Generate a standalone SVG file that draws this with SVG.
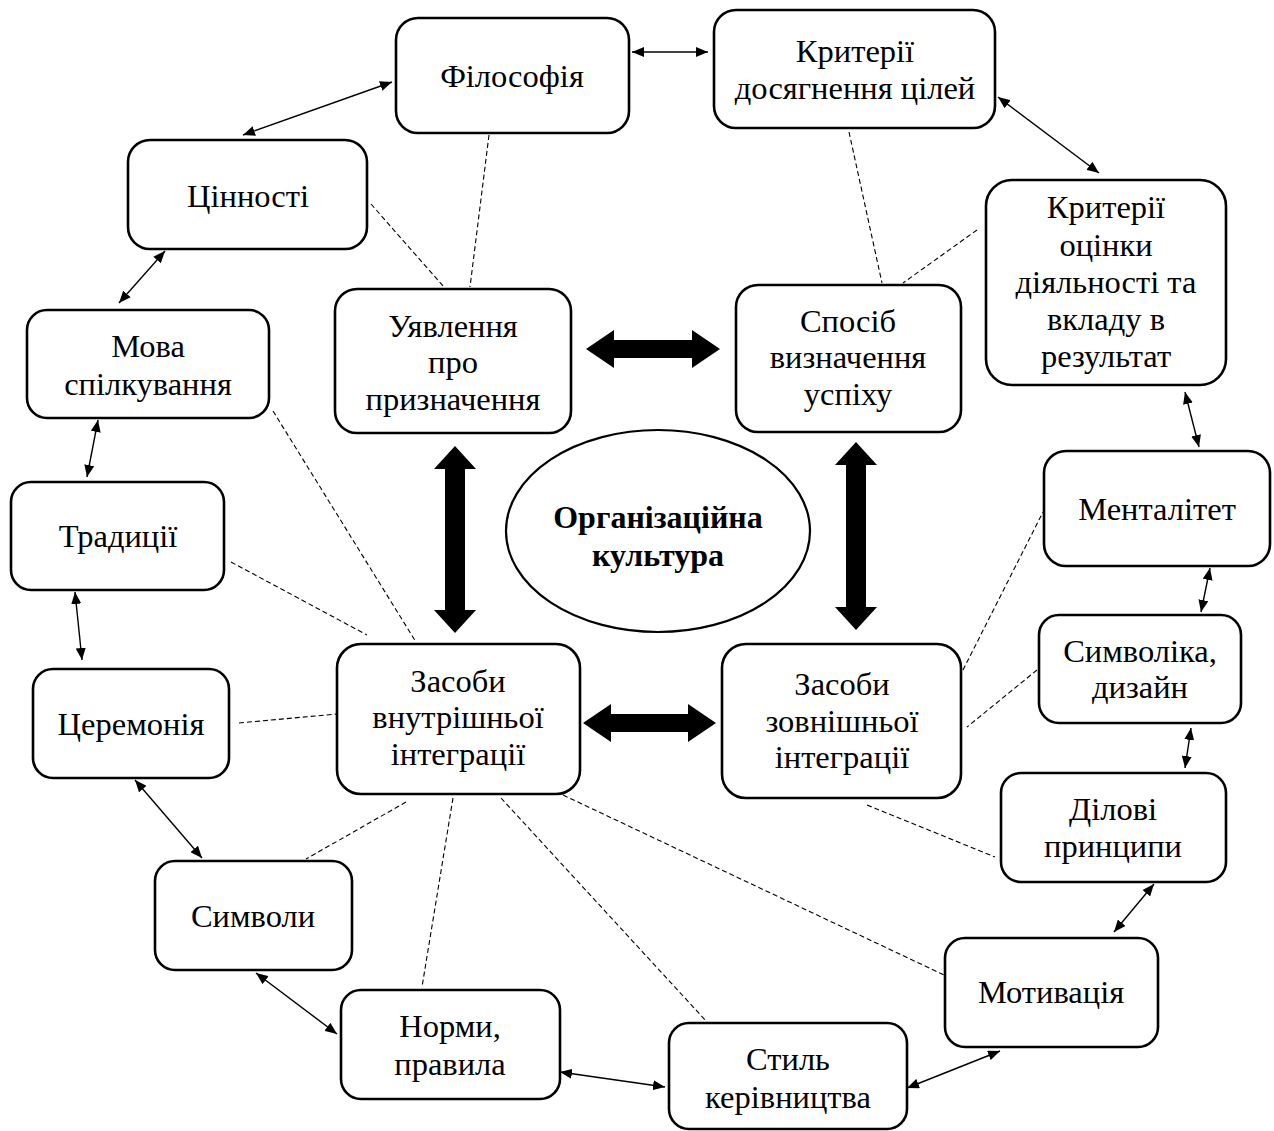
<svg xmlns="http://www.w3.org/2000/svg" width="1274" height="1131" viewBox="0 0 1274 1131">
<style>
.box{fill:#fff;stroke:#000;stroke-width:2.6}
.t{font-family:"Liberation Serif","Times New Roman",serif;font-size:32.5px;text-anchor:middle;fill:#000}
.b{font-weight:bold;font-size:32px}
.dash{stroke:#000;stroke-width:1.1;stroke-dasharray:5,3;fill:none}
.thin{stroke:#000;stroke-width:1.4;fill:none;marker-start:url(#ah);marker-end:url(#ah)}
.big{fill:#000;stroke:none}
</style>
<defs>
<marker id="ah" viewBox="0 0 12 10" refX="12" refY="5" markerWidth="12" markerHeight="10" markerUnits="userSpaceOnUse" orient="auto-start-reverse">
<path d="M0,0 L12,5 L0,10 Z" fill="#000"/>
</marker>
</defs>
<rect width="1274" height="1131" fill="#fff"/>
<g id="connectors">
<line class="dash" x1="489" y1="135" x2="470" y2="287"/>
<line class="dash" x1="371" y1="204" x2="444" y2="287"/>
<line class="dash" x1="849" y1="132" x2="882" y2="283"/>
<line class="dash" x1="977" y1="230" x2="903" y2="283"/>
<line class="dash" x1="273" y1="411" x2="416" y2="642"/>
<line class="dash" x1="231" y1="562" x2="367" y2="635"/>
<line class="dash" x1="239" y1="723" x2="337" y2="714"/>
<line class="dash" x1="406" y1="802" x2="306" y2="859"/>
<line class="dash" x1="453" y1="798" x2="422" y2="987"/>
<line class="dash" x1="501" y1="798" x2="707" y2="1022"/>
<line class="dash" x1="563" y1="795" x2="944" y2="975"/>
<line class="dash" x1="963" y1="670" x2="1043" y2="512"/>
<line class="dash" x1="1037" y1="670" x2="967" y2="727"/>
<line class="dash" x1="867" y1="805" x2="995" y2="857"/>
<line class="thin" x1="243" y1="135" x2="392" y2="82"/>
<line class="thin" x1="632" y1="52" x2="708" y2="52"/>
<line class="thin" x1="998" y1="97" x2="1099" y2="173"/>
<line class="thin" x1="165" y1="251" x2="119" y2="303"/>
<line class="thin" x1="98" y1="420" x2="87" y2="477"/>
<line class="thin" x1="75" y1="592" x2="82" y2="660"/>
<line class="thin" x1="135" y1="780" x2="202" y2="858"/>
<line class="thin" x1="256" y1="973" x2="337" y2="1034"/>
<line class="thin" x1="560" y1="1072" x2="665" y2="1087"/>
<line class="thin" x1="907" y1="1088" x2="1000" y2="1051"/>
<line class="thin" x1="1114" y1="932" x2="1154" y2="884"/>
<line class="thin" x1="1185" y1="768" x2="1191" y2="728"/>
<line class="thin" x1="1201" y1="612" x2="1210" y2="568"/>
<line class="thin" x1="1185" y1="392" x2="1199" y2="447"/>
<polygon class="big" points="586,349 614,330 614,340 692,340 692,330 720,349 692,368 692,358 614,358 614,368"/>
<polygon class="big" points="583,723 611,704 611,714 688,714 688,704 716,723 688,742 688,732 611,732 611,742"/>
<polygon class="big" points="455,446 476,469 465,469 465,610 476,610 455,633 434,610 445,610 445,469 434,469"/>
<polygon class="big" points="856,442 877,465 866,465 866,607 877,607 856,630 835,607 846,607 846,465 835,465"/>
</g>
<g id="n-center">
<ellipse cx="658" cy="531" rx="152" ry="101" fill="#fff" stroke="#000" stroke-width="2.2"/>
<text class="t b" x="658" y="528">Організаційна</text>
<text class="t b" x="658" y="566">культура</text>
</g>
<g id="n-filosofiya"><rect class="box" x="396" y="18" width="233" height="115" rx="22"/><text class="t" x="512" y="87">Філософія</text></g>
<g id="n-kryterii-dosyag"><rect class="box" x="714" y="10" width="281" height="118" rx="22"/><text class="t" x="855" y="62">Критерії</text><text class="t" x="855" y="99">досягнення цілей</text></g>
<g id="n-tsinnosti"><rect class="box" x="128" y="140" width="239" height="109" rx="22"/><text class="t" x="248" y="207">Цінності</text></g>
<g id="n-kryterii-otsinky"><rect class="box" x="986" y="180" width="240" height="205" rx="26"/><text class="t" x="1106" y="218">Критерії</text><text class="t" x="1106" y="256">оцінки</text><text class="t" x="1106" y="293">діяльності та</text><text class="t" x="1106" y="330">вкладу в</text><text class="t" x="1106" y="367">результат</text></g>
<g id="n-uyavlennya"><rect class="box" x="335" y="289" width="236" height="144" rx="22"/><text class="t" x="453" y="337">Уявлення</text><text class="t" x="453" y="373">про</text><text class="t" x="453" y="410">призначення</text></g>
<g id="n-sposib"><rect class="box" x="736" y="285" width="225" height="147" rx="22"/><text class="t" x="848" y="332">Спосіб</text><text class="t" x="848" y="368">визначення</text><text class="t" x="848" y="405">успіху</text></g>
<g id="n-mova"><rect class="box" x="27" y="310" width="242" height="108" rx="20"/><text class="t" x="148" y="357">Мова</text><text class="t" x="148" y="395">спілкування</text></g>
<g id="n-mentalitet"><rect class="box" x="1044" y="451" width="226" height="115" rx="22"/><text class="t" x="1157" y="520">Менталітет</text></g>
<g id="n-tradytsii"><rect class="box" x="11" y="482" width="213" height="108" rx="20"/><text class="t" x="118" y="547">Традиції</text></g>
<g id="n-vnutr"><rect class="box" x="337" y="644" width="243" height="150" rx="24"/><text class="t" x="458" y="692">Засоби</text><text class="t" x="458" y="728">внутрішньої</text><text class="t" x="458" y="765">інтеграції</text></g>
<g id="n-zovn"><rect class="box" x="722" y="644" width="239" height="154" rx="24"/><text class="t" x="842" y="695">Засоби</text><text class="t" x="842" y="732">зовнішньої</text><text class="t" x="842" y="768">інтеграції</text></g>
<g id="n-symvolika"><rect class="box" x="1039" y="615" width="202" height="108" rx="20"/><text class="t" x="1140" y="662">Символіка,</text><text class="t" x="1140" y="698">дизайн</text></g>
<g id="n-tseremoniya"><rect class="box" x="33" y="669" width="196" height="109" rx="20"/><text class="t" x="131" y="735">Церемонія</text></g>
<g id="n-dilovi"><rect class="box" x="1001" y="773" width="225" height="109" rx="20"/><text class="t" x="1113" y="820">Ділові</text><text class="t" x="1113" y="857">принципи</text></g>
<g id="n-symvoly"><rect class="box" x="155" y="861" width="197" height="109" rx="20"/><text class="t" x="253" y="927">Символи</text></g>
<g id="n-motyvatsiya"><rect class="box" x="945" y="938" width="213" height="109" rx="20"/><text class="t" x="1051" y="1003">Мотивація</text></g>
<g id="n-normy"><rect class="box" x="341" y="990" width="219" height="109" rx="20"/><text class="t" x="450" y="1037">Норми,</text><text class="t" x="450" y="1075">правила</text></g>
<g id="n-styl"><rect class="box" x="669" y="1023" width="238" height="106" rx="20"/><text class="t" x="788" y="1070">Стиль</text><text class="t" x="788" y="1108">керівництва</text></g>
</svg>
